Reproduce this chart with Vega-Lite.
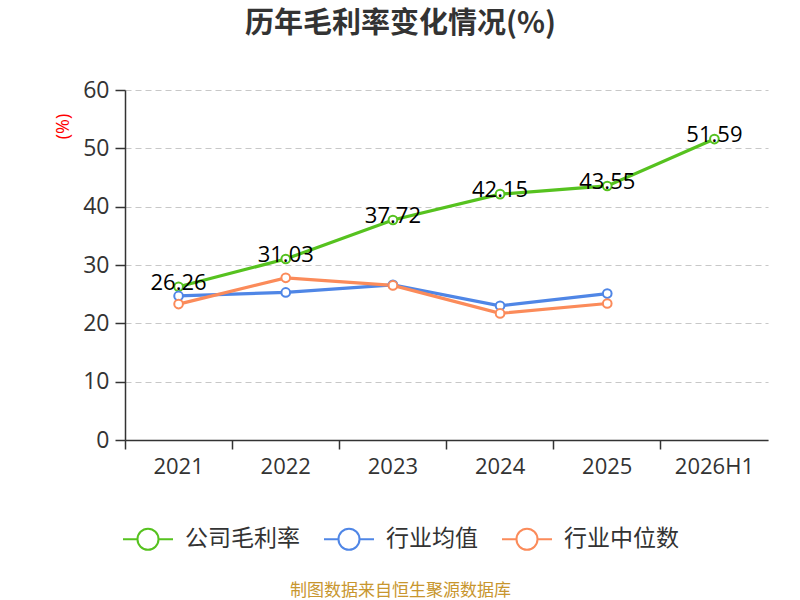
{
  "$schema": "https://vega.github.io/schema/vega-lite/v6.json",
  "autosize": "none",
  "width": 643,
  "height": 350,
  "padding": {"left": 125, "top": 90, "right": 32, "bottom": 160},
  "background": "white",
  "config": {
    "view": {"stroke": "transparent"},
    "font": "Open Sans, Noto Sans CJK SC"
  },
  "title": {
    "text": "历年毛利率变化情况(%)",
    "font": "Noto Sans CJK SC",
    "fontSize": 29,
    "fontWeight": "bold",
    "color": "#333333",
    "anchor": "middle",
    "dx": -46,
    "offset": 40
  },
  "data": {
    "values": [
      {"year": "2021", "series": "公司毛利率", "value": 26.26},
      {"year": "2022", "series": "公司毛利率", "value": 31.03},
      {"year": "2023", "series": "公司毛利率", "value": 37.72},
      {"year": "2024", "series": "公司毛利率", "value": 42.15},
      {"year": "2025", "series": "公司毛利率", "value": 43.55},
      {"year": "2026H1", "series": "公司毛利率", "value": 51.59},
      {"year": "2021", "series": "行业均值", "value": 24.7},
      {"year": "2022", "series": "行业均值", "value": 25.3},
      {"year": "2023", "series": "行业均值", "value": 26.6},
      {"year": "2024", "series": "行业均值", "value": 23.0},
      {"year": "2025", "series": "行业均值", "value": 25.1},
      {"year": "2021", "series": "行业中位数", "value": 23.3},
      {"year": "2022", "series": "行业中位数", "value": 27.8},
      {"year": "2023", "series": "行业中位数", "value": 26.5},
      {"year": "2024", "series": "行业中位数", "value": 21.7},
      {"year": "2025", "series": "行业中位数", "value": 23.4}
    ]
  },
  "encoding": {
    "x": {
      "field": "year",
      "type": "ordinal",
      "scale": {"type": "band", "paddingInner": 0, "paddingOuter": 0},
      "axis": {
        "title": "制图数据来自恒生聚源数据库",
        "titleFont": "Noto Sans CJK SC",
        "titleFontSize": 17,
        "titleFontWeight": "normal",
        "titleColor": "#c8962e",
        "titleX": 275,
        "titleY": 150,
        "titleBaseline": "middle",
        "titleAlign": "center",
        "bandPosition": 0,
        "labelAngle": 0,
        "labelFontSize": 22,
        "labelColor": "#333333",
        "labelPadding": 7,
        "domainColor": "#333333",
        "domainWidth": 1.5,
        "tickColor": "#333333",
        "tickSize": 9,
        "tickWidth": 1.5,
        "grid": false
      }
    },
    "y": {
      "field": "value",
      "type": "quantitative",
      "scale": {"domain": [0, 60]},
      "axis": {
        "values": [0, 10, 20, 30, 40, 50, 60],
        "title": "(%)",
        "titleColor": "red",
        "titleFontSize": 18,
        "titleFontWeight": "normal",
        "titleX": -62,
        "titleY": 36,
        "titleAngle": -90,
        "titleAlign": "center",
        "titleBaseline": "middle",
        "labelFontSize": 23,
        "labelColor": "#333333",
        "labelPadding": 6,
        "domainColor": "#333333",
        "domainWidth": 1.5,
        "tickColor": "#333333",
        "tickSize": 10,
        "tickWidth": 1.5,
        "grid": true,
        "gridColor": "#c8c8c8",
        "gridDash": [6, 4],
        "gridWidth": 1.2
      }
    }
  },
  "layer": [
    {
      "mark": {"type": "line", "strokeWidth": 3.2},
      "encoding": {
        "color": {
          "field": "series",
          "type": "nominal",
          "scale": {
            "domain": ["公司毛利率", "行业均值", "行业中位数"],
            "range": ["#56c21f", "#4f86e6", "#fb8b5a"]
          },
          "legend": {
            "orient": "none",
            "legendX": -3,
            "legendY": 423,
            "direction": "horizontal",
            "title": null,
            "symbolType": "M-1,0H-0.42M0.42,0H1M-0.42,0A0.42,0.42,0,1,1,0.42,0A0.42,0.42,0,1,1,-0.42,0",
            "symbolSize": 2500,
            "symbolStrokeWidth": 2,
            "symbolFillColor": "white",
            "labelFont": "Noto Sans CJK SC",
            "labelFontSize": 23,
            "labelColor": "#333333",
            "labelOffset": 11,
            "columnPadding": 20
          }
        }
      }
    },
    {
      "mark": {"type": "point", "filled": true, "fill": "white", "size": 75, "strokeWidth": 2, "opacity": 1},
      "encoding": {
        "stroke": {
          "field": "series",
          "type": "nominal",
          "scale": {
            "domain": ["公司毛利率", "行业均值", "行业中位数"],
            "range": ["#56c21f", "#4f86e6", "#fb8b5a"]
          },
          "legend": null
        }
      }
    },
    {
      "transform": [{"filter": "datum.series === '公司毛利率'"}],
      "mark": {"type": "text", "fontSize": 22, "color": "black", "baseline": "middle", "dy": -4},
      "encoding": {
        "text": {"field": "value", "type": "quantitative", "format": ".2f"}
      }
    }
  ]
}
